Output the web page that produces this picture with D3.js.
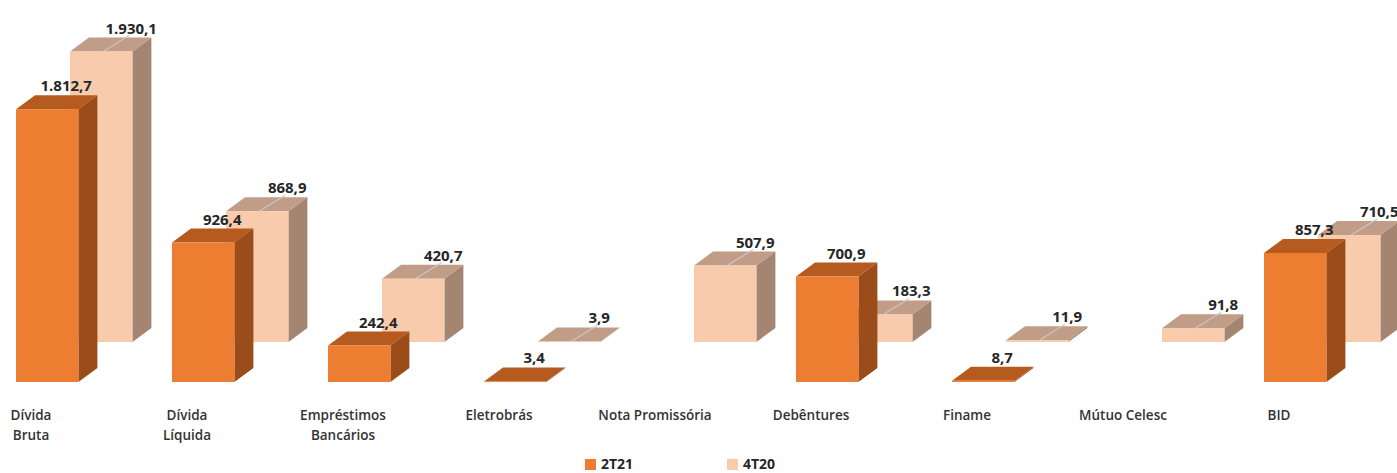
<!DOCTYPE html>
<html>
<head>
<meta charset="utf-8">
<script src="https://cdn.jsdelivr.net/npm/d3@7"></script>
<style>
  body { margin: 0; background: #fff; }
  svg { display: block; font-family: "Open Sans", sans-serif; }
</style>
</head>
<body>
<div id="chart"></div>
<script>
// categories (label lines) and the two series, R$ milhões
let categories = [
  ["Dívida", "Bruta"], ["Dívida", "Líquida"], ["Empréstimos", "Bancários"],
  ["Eletrobrás"], ["Nota Promissória"], ["Debêntures"], ["Finame"],
  ["Mútuo Celesc"], ["BID"]
];
let values2T21 = [1812.7, 926.4, 242.4, 3.4, null, 700.9, 8.7, null, 857.3];
let values4T20 = [1930.1, 868.9, 420.7, 3.9, 507.9, 183.3, 11.9, 91.8, 710.5];
let seriesNames = ["2T21", "4T20"];

let svgWidth = 1397;
let svgHeight = 473;
let baseY = 382;        // floor of the front row
let depthX = 19, depthY = -14;   // oblique depth of one box
let rowX = 54, rowY = -40;       // shift from front row to back row

// colours for front / top / side faces of each series
let faces = {
  "2T21": { front: "#ed7d31", top: "#b65b20", side: "#9a4d1b" },
  "4T20": { front: "#f8cbad", top: "#c19c86", side: "#a38572" }
};

let xScale = d3.scaleBand().domain(d3.range(categories.length)).range([16, 16 + 156 * categories.length]);
let yScale = d3.scaleLinear().domain([0, 2000]).range([0, 301]);
let barW = xScale.bandwidth() * 0.4;

let ptBR = d3.formatLocale({ decimal: ",", thousands: ".", grouping: [3], currency: ["R$", ""] });
let fmt = ptBR.format(",.1f");

let svg = d3.select("#chart").append("svg")
  .attr("width", svgWidth)
  .attr("height", svgHeight);

function boxData(values, name, offX, offY) {
  return values.map((v, i) => ({ v: v, i: i, name: name, x0: xScale(i) + offX, y0: baseY + offY }))
    .filter(d => d.v !== null);
}

// draws a 3D box for each datum: side, top, then front face
function drawBoxes(g, data) {
  let boxes = g.selectAll("g.box").data(data).enter().append("g").attr("class", "box");
  boxes.append("path")
    .attr("fill", d => faces[d.name].side)
    .attr("d", d => {
      let h = yScale(d.v), x1 = d.x0 + barW, yt = d.y0 - h;
      return `M${x1},${d.y0}L${x1},${yt}L${x1 + depthX},${yt + depthY}L${x1 + depthX},${d.y0 + depthY}Z`;
    });
  boxes.append("path")
    .attr("fill", d => faces[d.name].top)
    .attr("d", d => {
      let yt = d.y0 - yScale(d.v);
      return `M${d.x0},${yt}L${d.x0 + barW},${yt}L${d.x0 + barW + depthX},${yt + depthY}L${d.x0 + depthX},${yt + depthY}Z`;
    });
  boxes.append("rect")
    .attr("fill", d => faces[d.name].front)
    .attr("x", d => d.x0)
    .attr("y", d => d.y0 - yScale(d.v))
    .attr("width", barW)
    .attr("height", d => Math.max(yScale(d.v), 0.6));
}

let back = boxData(values4T20, "4T20", rowX, rowY);
let front = boxData(values2T21, "2T21", 0, 0);

drawBoxes(svg.append("g"), back);
drawBoxes(svg.append("g"), front);

// value labels; the back row gets a small leader line to its box
let labelFont = { size: "15px", weight: 700, fill: "#262626" };

let backLabels = svg.append("g");
backLabels.selectAll("line").data(back).enter().append("line")
  .attr("x1", d => d.x0 + barW / 2 + 28)
  .attr("y1", d => d.y0 - yScale(d.v) + depthY - 2)
  .attr("x2", d => d.x0 + barW / 2 + 2)
  .attr("y2", d => d.y0 - yScale(d.v))
  .attr("stroke", "#c8c8c8")
  .attr("stroke-width", 1.2);
backLabels.selectAll("text").data(back).enter().append("text")
  .attr("x", d => d.x0 + barW / 2 + 30)
  .attr("y", d => d.y0 - yScale(d.v) + depthY - 4)
  .attr("text-anchor", "middle")
  .attr("font-size", labelFont.size)
  .attr("font-weight", labelFont.weight)
  .attr("fill", labelFont.fill)
  .text(d => fmt(d.v));

svg.append("g").selectAll("text").data(front).enter().append("text")
  .attr("x", d => d.x0 + barW / 2 + depthX)
  .attr("y", d => d.y0 - yScale(d.v) + depthY - 4)
  .attr("text-anchor", "middle")
  .attr("font-size", labelFont.size)
  .attr("font-weight", labelFont.weight)
  .attr("fill", labelFont.fill)
  .text(d => fmt(d.v));

// category labels under the floor
let catText = svg.append("g").selectAll("text").data(categories).enter().append("text")
  .attr("x", (d, i) => xScale(i) + 15)
  .attr("y", 420)
  .attr("text-anchor", "middle")
  .attr("font-size", "13.5px")
  .attr("font-weight", 600)
  .attr("fill", "#333");
catText.selectAll("tspan").data(d => d).enter().append("tspan")
  .attr("x", function() { return this.parentNode.getAttribute("x"); })
  .attr("dy", (d, j) => j === 0 ? 0 : 20)
  .text(d => d);

// legend
let legend = svg.append("g").selectAll("g").data(seriesNames).enter().append("g")
  .attr("transform", (d, i) => `translate(${585 + i * 142},0)`);
legend.append("rect")
  .attr("x", 0).attr("y", 459)
  .attr("width", 11).attr("height", 11)
  .attr("fill", d => faces[d].front);
legend.append("text")
  .attr("x", 16).attr("y", 469)
  .attr("font-size", "14px")
  .attr("font-weight", 700)
  .attr("fill", "#262626")
  .text(d => d);
</script>
</body>
</html>
